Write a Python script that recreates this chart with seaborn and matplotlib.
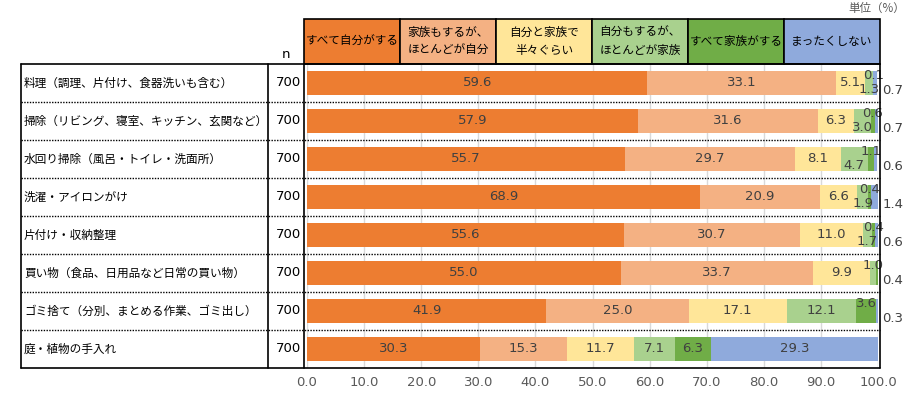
"""Stacked 100% bar chart: who does each household task (survey, n=700)."""

import matplotlib

matplotlib.use("Agg")
import matplotlib.pyplot as plt
import numpy as np
import pandas as pd
import seaborn as sns
from matplotlib.patches import Rectangle

tasks = [
    "料理（調理、片付け、食器洗いも含む）",
    "掃除（リビング、寝室、キッチン、玄関など）",
    "水回り掃除（風呂・トイレ・洗面所）",
    "洗濯・アイロンがけ",
    "片付け・収納整理",
    "買い物（食品、日用品など日常の買い物）",
    "ゴミ捨て（分別、まとめる作業、ゴミ出し）",
    "庭・植物の手入れ",
]
n_counts = [700, 700, 700, 700, 700, 700, 700, 700]
answers = [
    "すべて自分がする",
    "家族もするが、\nほとんどが自分",
    "自分と家族で\n半々ぐらい",
    "自分もするが、\nほとんどが家族",
    "すべて家族がする",
    "まったくしない",
]
all_self = [59.6, 57.9, 55.7, 68.9, 55.6, 55.0, 41.9, 30.3]
mostly_self = [33.1, 31.6, 29.7, 20.9, 30.7, 33.7, 25.0, 15.3]
half_half = [5.1, 6.3, 8.1, 6.6, 11.0, 9.9, 17.1, 11.7]
mostly_family = [1.3, 3.0, 4.7, 1.9, 1.7, 1.0, 12.1, 7.1]
all_family = [0.1, 0.6, 1.1, 0.4, 0.4, 0.4, 3.6, 6.3]
never = [0.7, 0.7, 0.6, 1.4, 0.6, 0.0, 0.3, 29.3]
colors = ["#ED7D31", "#F4B183", "#FFE699", "#A9D18E", "#70AD47", "#8FAADC"]

sns.set_theme(style="white")
plt.rcParams["font.family"] = ["Noto Sans CJK JP", "DejaVu Sans"]
NUM_FONT = ["DejaVu Sans"]

W, H = 909, 395
values = np.array([all_self, mostly_self, half_half, mostly_family, all_family, never]).T
cum = values.cumsum(axis=1)
starts = cum - values

fig = plt.figure(figsize=(W / 100, H / 100), dpi=100)
# table layout in pixels
x_left, x_div, x_n, x_plot, x_end = 21, 268, 304, 307, 878
y_head, y_top, y_bot = 19, 64, 368
ax = fig.add_axes([x_plot / W, 1 - y_bot / H, (x_end - x_plot) / W, (y_bot - y_top) / H])

# stacked bars: draw cumulative totals from the back to the front
for k in range(len(answers) - 1, -1, -1):
    df = pd.DataFrame({"task": tasks, "value": cum[:, k]})
    sns.barplot(data=df, x="value", y="task", orient="h", color=colors[k],
                saturation=1, width=0.63, linewidth=0, ax=ax, zorder=2)

ax.set_xlim(0, 100)
ax.set_ylim(len(tasks) - 0.5, -0.5)
ax.set_xticks(np.arange(0, 101, 10))
ax.set_xticklabels([f"{t:.1f}" for t in np.arange(0, 101, 10)], color="#595959",
                   fontsize=9.5, family=NUM_FONT)
ax.tick_params(axis="x", length=0, pad=6)
ax.set_yticks([])
ax.set_xlabel("")
ax.set_ylabel("")
for s in ax.spines.values():
    s.set_visible(False)
ax.grid(axis="x", color="#D9D9D9", linewidth=1, zorder=0)
ax.set_axisbelow(True)

# dotted row separators spanning the whole table
span_l = (x_left - x_plot) / (x_end - x_plot)
span_r = (x_end + 2 - x_plot) / (x_end - x_plot)
for i in range(len(tasks) - 1):
    ax.axhline(i + 0.5, xmin=span_l, xmax=span_r, color="black", linestyle=(0, (1, 1)),
               linewidth=1, clip_on=False, zorder=3)

# value labels
lab_color = "#404040"
lab_kw = dict(fontsize=9.5, color=lab_color, family=NUM_FONT, zorder=4)
for i in range(len(tasks)):
    nz = [k for k in range(len(answers)) if values[i, k] > 0]
    for k in nz:
        v = values[i, k]
        mid = starts[i, k] + v / 2
        txt = f"{v:.1f}"
        if v >= 5:
            ax.text(mid, i, txt, ha="center", va="center", **lab_kw)
        elif k == nz[-1]:
            ax.text(100.8, i + 0.2, txt, ha="left", va="center", clip_on=False, **lab_kw)
        elif k == nz[-2]:
            ax.text(mid, i - 0.2, txt, ha="center", va="center", clip_on=False, **lab_kw)
        else:
            ax.text(min(mid, 98.4), i + 0.18, txt, ha="center", va="center", **lab_kw)

# row labels and n column
for i, (task, n) in enumerate(zip(tasks, n_counts)):
    ax.text((x_left + 3 - x_plot) / (x_end - x_plot), i, task, transform=ax.get_yaxis_transform(),
            ha="left", va="center", fontsize=8.4, color="black", clip_on=False)
    ax.text((x_n - 3 - x_plot) / (x_end - x_plot), i, str(n), transform=ax.get_yaxis_transform(),
            ha="right", va="center", fontsize=9.5, color="black", family=NUM_FONT, clip_on=False)

# overlay for table frame and header legend
ov = fig.add_axes([0, 0, 1, 1], zorder=5)
ov.set_xlim(0, W)
ov.set_ylim(H, 0)
ov.axis("off")
ov.patch.set_alpha(0)
for y in (y_top, y_bot):
    ov.plot([x_left, x_end + 2], [y, y], color="black", linewidth=1.2)
for x in (x_left, x_div, x_n, x_end + 2):
    ov.plot([x, x], [y_top, y_bot], color="black", linewidth=1.2)

box_w = (x_end + 2 - x_n) / len(answers)
for k, name in enumerate(answers):
    x0 = x_n + k * box_w
    ov.add_patch(Rectangle((x0, y_head), box_w, y_top - y_head, facecolor=colors[k],
                           edgecolor="black", linewidth=1.2))
    ov.text(x0 + box_w / 2, (y_head + y_top) / 2, name, ha="center", va="center",
            fontsize=8.4, color="black", linespacing=1.5)

ov.text((x_div + x_n) / 2, y_top - 9, "n", ha="center", va="center", fontsize=9.5,
        color="black", family=NUM_FONT)
ov.text(W - 4, 8, "単位（%）", ha="right", va="center", fontsize=8.3, color="#595959")

fig.savefig("out.png", dpi=100)
